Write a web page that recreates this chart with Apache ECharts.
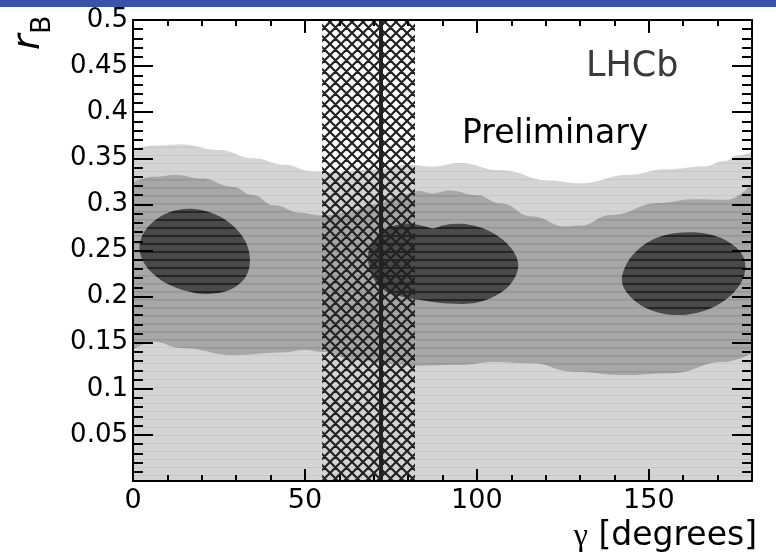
<!DOCTYPE html>
<html>
<head>
<meta charset="utf-8">
<script src="https://cdn.jsdelivr.net/npm/echarts@6/dist/echarts.min.js"></script>
<style>
html, body { margin: 0; padding: 0; background: #fff; }
#chart { width: 776px; height: 555px; }
</style>
</head>
<body>
<div id="chart"></div>
<script>
// gamma [deg] vs r_B contours
const outerTop = [
    [0, 0.360], [7, 0.364], [14, 0.365], [25, 0.359], [35, 0.350], [44, 0.343],
    [52, 0.336], [60, 0.335], [70, 0.338], [80, 0.343], [87, 0.341], [95, 0.345],
    [107, 0.337], [121, 0.326], [130, 0.323], [144, 0.332], [155, 0.338],
    [166, 0.341], [172, 0.347], [176, 0.353], [180, 0.357]
]
const middleTop = [
    [0, 0.324], [6, 0.330], [12.6, 0.332], [20, 0.328], [29, 0.319], [35, 0.310],
    [41, 0.299], [48.5, 0.291], [55, 0.288], [62, 0.291], [70, 0.300], [78, 0.310],
    [83, 0.3145], [87, 0.312], [92, 0.315], [100, 0.310], [107, 0.301],
    [116, 0.287], [126, 0.276], [130, 0.277], [139, 0.2885], [153, 0.3015],
    [163, 0.3055], [172.7, 0.305], [180, 0.322]
]
const middleBottom = [
    [0, 0.142], [5.8, 0.151], [14.5, 0.144], [29, 0.1367], [43.6, 0.1395], [50, 0.142],
    [55, 0.140], [65, 0.131], [75, 0.127], [82, 0.125], [95, 0.126], [105, 0.129],
    [116, 0.1276], [128, 0.1185], [142.5, 0.115], [157, 0.117], [171.5, 0.129],
    [180, 0.1385]
]
const ellipseLeft = [
    [2, 0.258], [4, 0.274], [8, 0.287], [13, 0.294], [18, 0.295], [24, 0.289],
    [29, 0.277], [32.8, 0.259], [34, 0.240], [33, 0.223], [29.5, 0.210],
    [24, 0.2035], [18, 0.204], [11, 0.212], [5.5, 0.226], [2.5, 0.242]
]
const ellipseCentre = [
    [68.3, 0.243], [70, 0.261], [73, 0.272], [77, 0.278], [81, 0.279], [85, 0.276],
    [87.5, 0.274], [90, 0.277], [94, 0.279], [99, 0.277], [104.8, 0.2687],
    [109.6, 0.254], [112, 0.236], [110.6, 0.218], [106.7, 0.2036], [100, 0.1935],
    [92, 0.1925], [85, 0.1955], [78, 0.200], [73, 0.207], [70, 0.219]
]
const ellipseRight = [
    [158, 0.269], [164, 0.2695], [170, 0.265], [174.5, 0.256], [177.5, 0.243],
    [178, 0.228], [176.5, 0.213], [172.6, 0.1975], [166, 0.1845], [158, 0.180],
    [150.5, 0.1855], [145, 0.1985], [142.2, 0.216], [143.6, 0.236], [147.5, 0.253],
    [152.5, 0.264]
]
const ellipses = [ellipseLeft, ellipseCentre, ellipseRight]
const gammaBand = [[55, 82]]
const gammaCentral = 72

const FONT = 'DejaVu Sans'

// horizontal banding like the original raster fill
const stripes = (base, line, w) => {
    const c = document.createElement('canvas')
    c.width = 8
    c.height = 8
    const g = c.getContext('2d')
    g.fillStyle = base
    g.fillRect(0, 0, 8, 8)
    g.fillStyle = line
    g.fillRect(0, 3, 8, w)
    return { image: c, repeat: 'repeat' }
}

const crossHatch = () => {
    const s = 11
    const c = document.createElement('canvas')
    c.width = s
    c.height = s
    const g = c.getContext('2d')
    g.strokeStyle = '#222'
    g.lineWidth = 2.2
    g.beginPath()
    for (const k of [-s, 0, s]) {
        g.moveTo(k, 0); g.lineTo(k + s, s)
        g.moveTo(k + s, 0); g.lineTo(k, s)
    }
    g.stroke()
    return { image: c, repeat: 'repeat' }
}

const lightFill = stripes('#d4d4d4', '#c8c8c8', 1)
const midFill = stripes('#a7a7a7', '#969696', 1.5)
const darkFill = stripes('#4a4a4a', '#242424', 2)
const hatchFill = crossHatch()

const areaSeries = (data, fill, z) => ({
    type: 'line',
    data,
    smooth: 0.45,
    smoothMonotone: 'x',
    symbol: 'none',
    lineStyle: { width: 0 },
    areaStyle: { color: fill, opacity: 1 },
    silent: true,
    z
})

const black = () => ({ color: '#000', width: 2 })

// one axis per side and tick length; only the first carries labels
const xFrame = (position, interval, len, labels) => ({
    type: 'value',
    position,
    min: 0,
    max: 180,
    interval,
    z: 10,
    axisLine: { show: true, onZero: false, lineStyle: black() },
    axisTick: { show: len > 0, inside: true, length: len, lineStyle: black() },
    axisLabel: labels ? {
        show: true, fontFamily: FONT, fontSize: 27, color: '#000', margin: 6, showMaxLabel: false
    } : { show: false },
    splitLine: { show: false }
})

const yFrame = (position, len, minorLen, labels) => ({
    type: 'value',
    position,
    min: 0,
    max: 0.5,
    interval: 0.05,
    z: 10,
    axisLine: { show: true, onZero: false, lineStyle: black() },
    axisTick: { show: len > 0, inside: true, length: len, lineStyle: black() },
    minorTick: { show: minorLen > 0, splitNumber: 5, length: minorLen, lineStyle: black() },
    axisLabel: labels ? {
        show: true, fontFamily: FONT, fontSize: 26, color: '#000', margin: 5,
        formatter: v => (v === 0 ? '' : String(+v.toFixed(2)))
    } : { show: false },
    splitLine: { show: false }
})

const chart = echarts.init(document.getElementById('chart'))
chart.setOption({
    backgroundColor: '#fff',
    animation: false,
    grid: { left: 133, right: 24, top: 20, bottom: 74 },
    xAxis: [
        xFrame('bottom', 50, 0, true),
        xFrame('bottom', 50, 12, false),
        xFrame('bottom', 10, 6, false),
        xFrame('top', 50, 13, false),
        xFrame('top', 10, 6, false)
    ],
    yAxis: [
        yFrame('left', 0, 0, true),
        yFrame('left', 20, 10, false),
        yFrame('right', 20, 10, false)
    ],
    series: [
        areaSeries(outerTop, lightFill, 1),
        areaSeries(middleTop, midFill, 2),
        areaSeries(middleBottom, lightFill, 3),
        {
            type: 'custom',
            data: ellipses.map(e => e[0]),
            silent: true,
            z: 4,
            renderItem: (params, api) => ({
                type: 'polygon',
                shape: { points: ellipses[params.dataIndex].map(p => api.coord(p)), smooth: 0.35 },
                style: { fill: darkFill }
            })
        },
        {
            type: 'custom',
            data: gammaBand,
            silent: true,
            z: 6,
            renderItem: (params, api) => {
                const a = api.coord([api.value(0), 0.5])
                const b = api.coord([api.value(1), 0])
                return {
                    type: 'rect',
                    shape: { x: a[0], y: a[1], width: b[0] - a[0], height: b[1] - a[1] },
                    style: { fill: hatchFill }
                }
            },
            markLine: {
                silent: true,
                symbol: 'none',
                label: { show: false },
                lineStyle: { color: '#222', width: 4, type: 'solid' },
                data: [{ xAxis: gammaCentral }]
            }
        }
    ],
    graphic: [
        { type: 'rect', shape: { x: 0, y: 0, width: 776, height: 7 }, style: { fill: '#3953a6' } },
        {
            type: 'text', x: 586, y: 67,
            style: { text: 'LHCb', fontFamily: FONT, fontSize: 35, fill: '#3a3a3a', align: 'left', verticalAlign: 'middle' }
        },
        {
            type: 'text', x: 462, y: 134,
            style: { text: 'Preliminary', fontFamily: FONT, fontSize: 33, fill: '#000', align: 'left', verticalAlign: 'middle' }
        },
        {
            type: 'text', x: 48, y: 50, rotation: Math.PI / 2,
            style: { text: 'r', fontFamily: FONT, fontStyle: 'italic', fontSize: 38, fill: '#000', align: 'left', verticalAlign: 'bottom' }
        },
        {
            type: 'text', x: 56, y: 34, rotation: Math.PI / 2,
            style: { text: 'B', fontFamily: FONT, fontSize: 27, fill: '#000', align: 'left', verticalAlign: 'bottom' }
        },
        {
            type: 'text', x: 757, y: 553,
            style: {
                text: '{g|γ} [degrees]',
                rich: { g: { fontFamily: 'Liberation Serif', fontSize: 32, fill: '#000' } },
                fontFamily: FONT, fontSize: 33, fill: '#000', align: 'right', verticalAlign: 'bottom'
            }
        }
    ]
})
</script>
</body>
</html>
